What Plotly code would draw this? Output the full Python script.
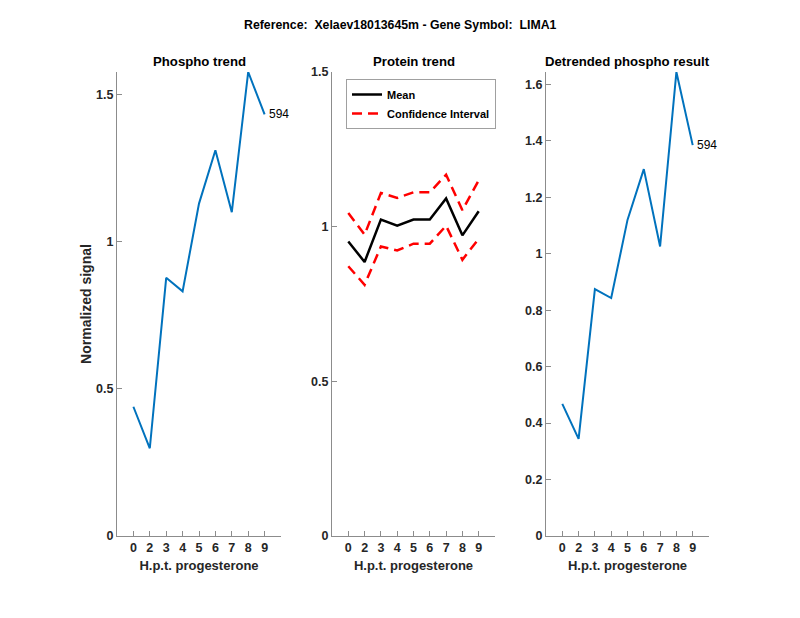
import plotly.graph_objects as go

# ---- data ----
time_labels = ["0", "2", "3", "4", "5", "6", "7", "8", "9"]
positions = [1, 2, 3, 4, 5, 6, 7, 8, 9]

phospho = [0.439, 0.298, 0.877, 0.831, 1.129, 1.310, 1.100, 1.576, 1.432]
protein_mean = [0.952, 0.886, 1.023, 1.003, 1.023, 1.023, 1.091, 0.972, 1.050]
protein_upper = [1.044, 0.974, 1.109, 1.093, 1.111, 1.111, 1.168, 1.053, 1.150]
protein_lower = [0.872, 0.812, 0.936, 0.923, 0.945, 0.945, 1.003, 0.893, 0.961]
detrended = [0.468, 0.344, 0.875, 0.843, 1.120, 1.300, 1.026, 1.644, 1.385]

peptide_label = "594"
main_title = "Reference:  Xelaev18013645m - Gene Symbol:  LIMA1"
panel_titles = ["Phospho trend", "Protein trend", "Detrended phospho result"]
x_title = "H.p.t. progesterone"
y_title = "Normalized signal"

y1_ticks = [0, 0.5, 1, 1.5]
y2_ticks = [0, 0.5, 1, 1.5]
y3_ticks = [0, 0.2, 0.4, 0.6, 0.8, 1.0, 1.2, 1.4, 1.6]

# ---- style ----
FONT = "Liberation Sans"
TXT = "#262626"
AX = "#8c8c8c"
BLUE = "#0072BD"

W, H = 800, 618
OFF = 8  # default page body margin offsets the figure
def px_x(p):
    return (p - OFF) / W
def px_y(p):
    return 1 - (p - OFF) / H

doms_x = [(px_x(117), px_x(281)), (px_x(332), px_x(495)), (px_x(546), px_x(709))]
dom_y = (px_y(536), px_y(72))

fig = go.Figure()

fig.add_trace(go.Scatter(x=positions, y=phospho, mode="lines",
                         line=dict(color=BLUE, width=2), showlegend=False,
                         xaxis="x", yaxis="y"))
fig.add_trace(go.Scatter(x=positions, y=protein_mean, mode="lines",
                         line=dict(color="black", width=2.5), name="Mean",
                         xaxis="x2", yaxis="y2"))
fig.add_trace(go.Scatter(x=positions, y=protein_upper, mode="lines",
                         line=dict(color="red", width=2.5, dash="10px,6px"),
                         name="Confidence Interval", xaxis="x2", yaxis="y2"))
fig.add_trace(go.Scatter(x=positions, y=protein_lower, mode="lines",
                         line=dict(color="red", width=2.5, dash="10px,6px"),
                         name="Confidence Interval", showlegend=False,
                         xaxis="x2", yaxis="y2"))
fig.add_trace(go.Scatter(x=positions, y=detrended, mode="lines",
                         line=dict(color=BLUE, width=2), showlegend=False,
                         xaxis="x3", yaxis="y3"))

def fmt(v):
    return "%g" % v

xcommon = dict(range=[0, 10], tickmode="array", tickvals=positions,
               ticktext=time_labels, ticks="inside", ticklen=5, tickcolor=AX,
               showline=True, linecolor=AX, linewidth=1, showgrid=False,
               zeroline=False, automargin=False,
               tickfont=dict(family=FONT, size=12.5, color=TXT, weight="bold"),
               title=dict(text=x_title, font=dict(family=FONT, size=13, color=TXT, weight="bold"),
                          standoff=6),
               fixedrange=True)

def ycommon(rng, ticks):
    return dict(range=rng, tickmode="array", tickvals=ticks,
                ticktext=[fmt(t) for t in ticks], ticks="inside", ticklen=5,
                tickcolor=AX, showline=True, linecolor=AX, linewidth=1,
                showgrid=False, zeroline=False, automargin=False,
                tickfont=dict(family=FONT, size=12.5, color=TXT, weight="bold"),
                fixedrange=True)

layout = dict(
    width=W, height=H, margin=dict(l=0, r=0, t=0, b=0, autoexpand=False),
    paper_bgcolor="white", plot_bgcolor="white",
    font=dict(family=FONT, color=TXT),
    xaxis=dict(domain=doms_x[0], anchor="y", **xcommon),
    xaxis2=dict(domain=doms_x[1], anchor="y2", **xcommon),
    xaxis3=dict(domain=doms_x[2], anchor="y3", **xcommon),
    yaxis=dict(domain=dom_y, anchor="x", **ycommon([0, max(phospho)], y1_ticks),
               title=dict(text=y_title, standoff=1,
                          font=dict(family=FONT, size=14, color=TXT, weight="bold"))),
    yaxis2=dict(domain=dom_y, anchor="x2", **ycommon([0, 1.5], y2_ticks)),
    yaxis3=dict(domain=dom_y, anchor="x3", **ycommon([0, max(detrended)], y3_ticks)),
    legend=dict(x=px_x(346), y=px_y(79), xanchor="left", yanchor="top",
                bordercolor="#a0a0a0", borderwidth=1, bgcolor="white",
                font=dict(family=FONT, size=11, color="black", weight="bold"),
                tracegroupgap=0, itemwidth=30),
)
fig.update_layout(**layout)

annotations = [
    dict(text=main_title, x=px_x(400), y=px_y(25), xref="paper", yref="paper",
         showarrow=False, font=dict(family=FONT, size=12.3, color="black", weight="bold"),
         xanchor="center", yanchor="middle"),
]
for i, t in enumerate(panel_titles):
    cx = (doms_x[i][0] + doms_x[i][1]) / 2
    annotations.append(dict(text=t, x=cx, y=px_y(61), xref="paper", yref="paper",
                            showarrow=False, xanchor="center", yanchor="middle",
                            font=dict(family=FONT, size=13.2, color="black", weight="bold")))
annotations.append(dict(text=peptide_label, x=positions[-1], y=phospho[-1], xref="x", yref="y",
                        showarrow=False, xanchor="left", yanchor="middle", xshift=2,
                        font=dict(family=FONT, size=12, color="black")))
annotations.append(dict(text=peptide_label, x=positions[-1], y=detrended[-1], xref="x3", yref="y3",
                        showarrow=False, xanchor="left", yanchor="middle", xshift=2,
                        font=dict(family=FONT, size=12, color="black")))
fig.update_layout(annotations=annotations)

fig.write_html("out.html")
